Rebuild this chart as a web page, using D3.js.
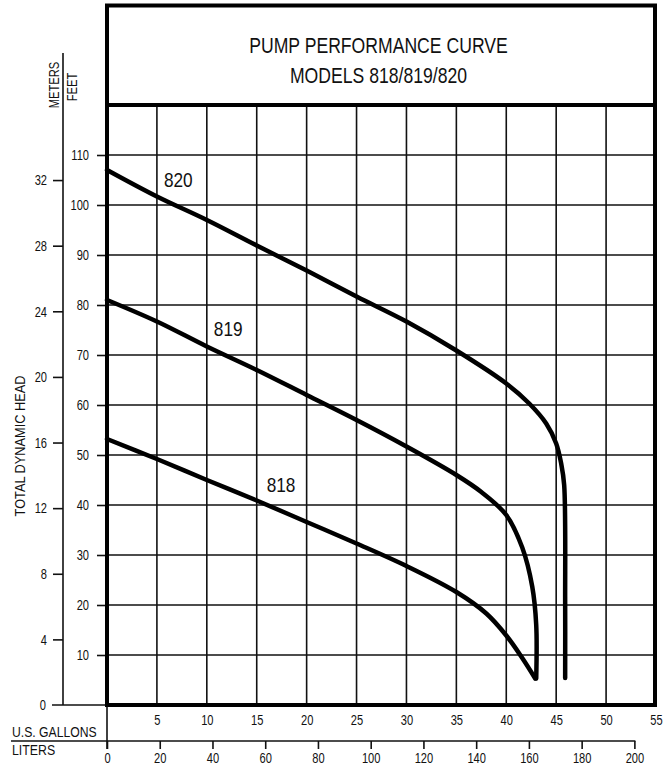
<html>
<head>
<script src="https://d3js.org/d3.v7.min.js"></script>
<style>
  body { margin: 0; background: #fff; }
  text { font-family: "Liberation Sans", Arial, sans-serif; fill: #111; }
</style>
</head>
<body>
<svg width="668" height="768"></svg>
<script>
    // values: flow in US gallons per minute, head in feet
    const gallonTicks = [5, 10, 15, 20, 25, 30, 35, 40, 45, 50, 55];
    const literTicks = [0, 20, 40, 60, 80, 100, 120, 140, 160, 180, 200];
    const feetTicks = [10, 20, 30, 40, 50, 60, 70, 80, 90, 100, 110];
    const meterTicks = [4, 8, 12, 16, 20, 24, 28, 32];

    const curve818 = [[0, 53.2], [5, 49.2], [10, 45], [15, 40.9], [20, 36.6], [25, 32.3], [30, 27.8], [35, 22.6],
        [38, 18.3], [40, 13.9], [41.6, 9.4], [42.9, 5.3]];
    const curve819 = [[0, 81], [5, 76.7], [10, 71.7], [15, 67], [20, 62], [25, 57], [30, 51.7], [35, 46],
        [37.5, 42.6], [40, 38], [41.6, 31.5], [42.6, 23.7], [43, 16], [43, 5.3]];
    const curve820 = [[0, 107], [5, 101.7], [10, 97], [15, 91.9], [20, 86.9], [25, 81.7], [30, 76.7], [35, 70.9],
        [40, 64.3], [42.3, 60.3], [44, 56.3], [45, 52.3], [45.5, 48.3], [45.8, 44], [45.9, 20], [45.9, 5.4]];
    const curves = [
        {name: "818", pts: curve818, label: [16, 42.6]},
        {name: "819", pts: curve819, label: [10.7, 73.8]},
        {name: "820", pts: curve820, label: [5.7, 103.6]}
    ];

    const title = ["PUMP PERFORMANCE CURVE", "MODELS 818/819/820"];

    const svg = d3.select("svg");

    // no condensed font here, so squeeze the glyphs horizontally
    function squeeze(sel, k) {
        sel.each(function () {
            const w = this.getComputedTextLength();
            this.setAttribute('textLength', w * k);
            this.setAttribute('lengthAdjust', 'spacingAndGlyphs');
        });
    }

    const x = d3.scaleLinear().domain([0, 55]).range([107, 656]);
    const y = d3.scaleLinear().domain([0, 120]).range([705, 105]);
    const yM = d3.scaleLinear().domain([0, 120 * 0.3048]).range([705, 105]);
    const xL = d3.scaleLinear().domain([0, 55 * 3.78541]).range([107, 656]);

    // grid
    svg.append('g')
        .selectAll('line')
        .data(gallonTicks.slice(0, -1))
        .enter()
        .append('line')
        .attr('x1', d => x(d)).attr('x2', d => x(d))
        .attr('y1', y(120)).attr('y2', y(0))
        .attr('stroke', '#111').attr('stroke-width', 1.6);

    svg.append('g')
        .selectAll('line')
        .data(feetTicks)
        .enter()
        .append('line')
        .attr('x1', x(0)).attr('x2', x(55))
        .attr('y1', d => y(d)).attr('y2', d => y(d))
        .attr('stroke', '#111').attr('stroke-width', 1.6);

    // feet axis
    const feetAxis = svg.append('g')
        .attr('transform', `translate(${x(0)},0)`)
        .call(d3.axisLeft(y).tickValues(feetTicks).tickSize(10).tickPadding(8));
    feetAxis.select('.domain').remove();

    // meters axis
    const meterAxis = svg.append('g')
        .attr('transform', `translate(63,0)`)
        .call(d3.axisLeft(yM).tickValues(meterTicks).tickSize(10).tickPadding(6));
    meterAxis.select('.domain').remove();
    svg.append('line')
        .attr('x1', 63).attr('x2', 63)
        .attr('y1', 53).attr('y2', yM(0))
        .attr('stroke', '#111').attr('stroke-width', 1.6);
    svg.append('line')
        .attr('x1', 52).attr('x2', x(0))
        .attr('y1', yM(0)).attr('y2', yM(0))
        .attr('stroke', '#111').attr('stroke-width', 1.6);
    const zero = svg.append('text')
        .attr('x', 46).attr('y', yM(0)).attr('dy', '0.32em')
        .attr('text-anchor', 'end').attr('font-size', 15)
        .text('0');

    // gallons labels
    const galAxis = svg.append('g')
        .attr('transform', `translate(0,${y(0)})`)
        .call(d3.axisBottom(x).tickValues(gallonTicks).tickSize(0).tickPadding(9));
    galAxis.select('.domain').remove();

    // liters axis
    const litAxis = svg.append('g')
        .attr('transform', `translate(0,741)`)
        .call(d3.axisBottom(xL).tickValues(literTicks).tickSize(8).tickPadding(3));
    litAxis.select('.domain').remove();
    svg.append('line')
        .attr('x1', 11).attr('x2', xL(200) + 1)
        .attr('y1', 741).attr('y2', 741)
        .attr('stroke', '#111').attr('stroke-width', 1.6);
    svg.append('line')
        .attr('x1', x(0)).attr('x2', x(0))
        .attr('y1', y(0)).attr('y2', 749)
        .attr('stroke', '#111').attr('stroke-width', 1.6);

    [feetAxis, meterAxis, galAxis, litAxis].forEach(a => {
        a.selectAll('text').attr('font-size', 15).attr('fill', '#111')
            .style('font-family', '"Liberation Sans", Arial, sans-serif');
        a.selectAll('line').attr('stroke', '#111').attr('stroke-width', 1.6);
        squeeze(a.selectAll('text'), 0.74);
    });
    squeeze(zero, 0.74);

    // axis titles
    const gal = svg.append('text').attr('x', 12).attr('y', 737).attr('font-size', 14).text('U.S. GALLONS');
    const lit = svg.append('text').attr('x', 12).attr('y', 755).attr('font-size', 14).text('LITERS');
    const tdh = svg.append('text')
        .attr('transform', `translate(25,446) rotate(-90)`)
        .attr('text-anchor', 'middle').attr('font-size', 15)
        .text('TOTAL DYNAMIC HEAD');
    const met = svg.append('text')
        .attr('transform', `translate(59,85) rotate(-90)`)
        .attr('text-anchor', 'middle').attr('font-size', 15)
        .text('METERS');
    const ft = svg.append('text')
        .attr('transform', `translate(77,87) rotate(-90)`)
        .attr('text-anchor', 'middle').attr('font-size', 15)
        .text('FEET');
    squeeze(gal, 0.87);
    squeeze(lit, 0.88);
    squeeze(tdh, 0.85);
    squeeze(met, 0.74);
    squeeze(ft, 0.74);

    // frame and title box
    svg.append('rect')
        .attr('x', x(0)).attr('y', 5.5)
        .attr('width', x(55) - x(0) - 1).attr('height', y(0) - 5.5)
        .attr('fill', 'none').attr('stroke', '#000').attr('stroke-width', 4);
    svg.append('line')
        .attr('x1', x(0)).attr('x2', x(55) - 1)
        .attr('y1', y(120)).attr('y2', y(120))
        .attr('stroke', '#000').attr('stroke-width', 4);

    const titles = svg.append('g')
        .selectAll('text')
        .data(title)
        .enter()
        .append('text')
        .attr('x', (x(0) + x(55)) / 2 - 3)
        .attr('y', (d, i) => 53 + i * 30)
        .attr('text-anchor', 'middle')
        .attr('font-size', 22)
        .text(d => d);
    squeeze(titles, 0.8);

    // curves
    const line = d3.line()
        .x(d => x(d[0]))
        .y(d => y(d[1]))
        .curve(d3.curveCatmullRom.alpha(0.5));

    svg.append('g')
        .selectAll('path')
        .data(curves)
        .enter()
        .append('path')
        .attr('d', d => line(d.pts))
        .attr('fill', 'none')
        .attr('stroke', '#000')
        .attr('stroke-width', 4.5)
        .attr('stroke-linecap', 'round')
        .attr('stroke-linejoin', 'round');

    const names = svg.append('g')
        .selectAll('text')
        .data(curves)
        .enter()
        .append('text')
        .attr('x', d => x(d.label[0]))
        .attr('y', d => y(d.label[1]))
        .attr('font-size', 21)
        .text(d => d.name);
    squeeze(names, 0.82);
</script>
</body>
</html>
